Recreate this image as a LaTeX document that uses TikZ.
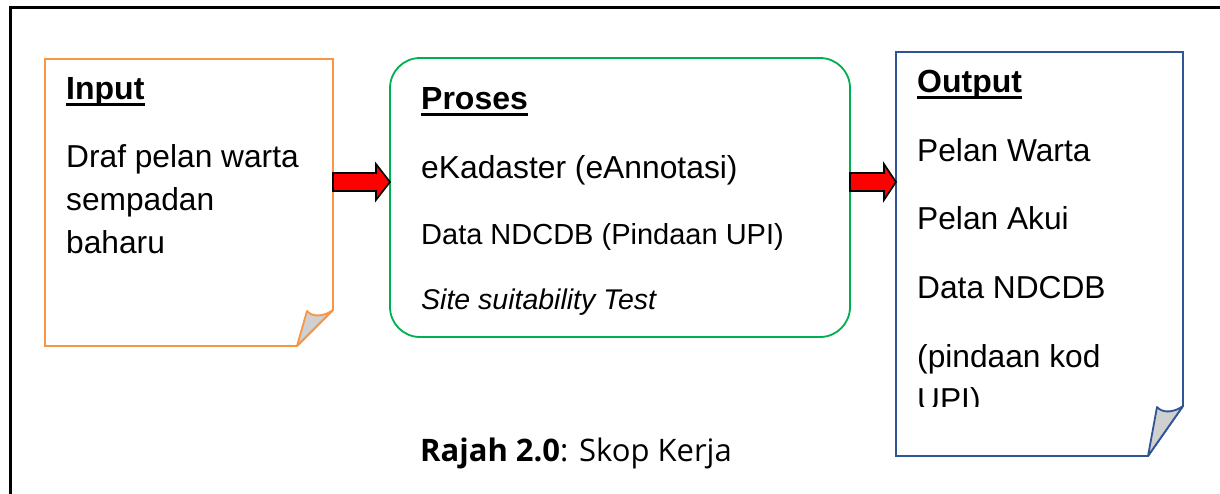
\documentclass[tikz,border=0pt]{standalone}
\usepackage{fontspec}
\setmainfont{Liberation Sans}
\newfontfamily\capfont{Open Sans}
\usetikzlibrary{calc}
\definecolor{inorange}{HTML}{F79646}
\definecolor{progreen}{HTML}{00B050}
\definecolor{outblue}{HTML}{2F5597}
\definecolor{curlgray}{HTML}{D0D0D0}
\definecolor{arrowred}{HTML}{FF0000}
\begin{document}
\begin{tikzpicture}[x=1pt,y=-1pt,
  boxanchor/.style={inner sep=0, outer sep=0, minimum width=#1, anchor=north west, draw=none},
  ttl/.style={font=\fontsize{32}{38}\selectfont\bfseries, anchor=base west, inner sep=0},
  bodytxt/.style={font=\fontsize{31.7}{38}\selectfont, anchor=base west, inner sep=0},
  uline/.style={line width=3pt},
  blockarrow/.style={draw=black, fill=arrowred, line width=1.6pt, line join=miter},
  curl/.style={fill=curlgray, line width=1.8pt, line join=round}
]
\useasboundingbox (0,0) rectangle (1220,493);
\fill[white] (0,0) rectangle (1220,493);
% outer frame
\draw[line width=3pt] (10,495) -- (10,7) -- (1222,7);

% ---------- Input box ----------
\node[boxanchor=288pt, minimum height=287pt] (inbox) at (45,59) {};
\draw[inorange, line width=1.8pt, line join=miter]
  (inbox.north west) -- (inbox.north east) -- ($(inbox.south east)+(0,-36)$)
  -- ($(inbox.south east)+(-36,0)$) -- (inbox.south west) -- cycle;
\draw[inorange, curl] ($(inbox.south east)+(-36,0)$) -- ($(inbox.south east)+(-26,-35)$)
  .. controls ($(inbox.south east)+(-20,-28)$) and ($(inbox.south east)+(-8,-30)$) .. ($(inbox.south east)+(0,-36)$) -- cycle;
\node[ttl] (tin) at (66,99) {Input};
\draw[uline] ($(tin.base west)+(0,5)$) -- ($(tin.base east)+(0,5)$);
\node[bodytxt] (in1) at (66,167) {Draf pelan warta};
\node[bodytxt] (in2) at (66,210) {sempadan};
\node[bodytxt] (in3) at (66,253) {baharu};

% ---------- Proses box ----------
\node[boxanchor=460pt, minimum height=279pt] (probox) at (390,58) {};
\draw[progreen, line width=1.8pt, rounded corners=30pt]
  (probox.north west) rectangle (probox.south east);
\node[ttl] (tpro) at (421,109) {Proses};
\draw[uline] ($(tpro.base west)+(0,5)$) -- ($(tpro.base east)+(0,5)$);
\node[bodytxt, font=\fontsize{31.8}{38}\selectfont] (p1) at (421,178) {eKadaster (eAnnotasi)};
\node[bodytxt, font=\fontsize{29}{36}\selectfont] (p2) at (421,244) {Data NDCDB (Pindaan UPI)};
\node[bodytxt, font=\fontsize{28.5}{36}\selectfont\itshape] (p3) at (421,309) {Site suitability Test};

% ---------- Output box ----------
\node[boxanchor=287pt, minimum height=404pt] (outbox) at (896,52) {};
\draw[outblue, line width=1.8pt, line join=miter]
  (outbox.north west) -- (outbox.north east) -- ($(outbox.south east)+(0,-50)$)
  -- ($(outbox.south east)+(-35,0)$) -- (outbox.south west) -- cycle;
\draw[outblue, curl] ($(outbox.south east)+(-35,0)$) -- ($(outbox.south east)+(-26,-49)$)
  .. controls ($(outbox.south east)+(-20,-42)$) and ($(outbox.south east)+(-8,-44)$) .. ($(outbox.south east)+(0,-50)$) -- cycle;
\node[ttl] (tout) at (917,92) {Output};
\draw[uline] ($(tout.base west)+(0,5)$) -- ($(tout.base east)+(0,5)$);
\begin{scope}
  \clip (896,52) rectangle (1183,406);
  \node[bodytxt] (o1) at (917,161) {Pelan Warta};
  \node[bodytxt] (o2) at (917,229) {Pelan Akui};
  \node[bodytxt] (o3) at (917,298) {Data NDCDB};
  \node[bodytxt] (o4) at (917,367) {(pindaan kod};
  \node[bodytxt] (o5) at (917,410) {UPI)};
\end{scope}

% ---------- block arrows ----------
\coordinate (a1s) at (inbox.east |- 0,182);
\coordinate (a1e) at (probox.west |- 0,182);
\draw[blockarrow] ($(a1s)+(0,-9)$) -- ($(a1e)+(-14,-9)$) -- ($(a1e)+(-14,-18)$) -- (a1e)
  -- ($(a1e)+(-14,18)$) -- ($(a1e)+(-14,9)$) -- ($(a1s)+(0,9)$) -- cycle;
\coordinate (a2s) at (probox.east |- 0,182);
\coordinate (a2e) at (outbox.west |- 0,182);
\draw[blockarrow] ($(a2s)+(0,-9)$) -- ($(a2e)+(-12,-9)$) -- ($(a2e)+(-12,-18)$) -- (a2e)
  -- ($(a2e)+(-12,18)$) -- ($(a2e)+(-12,9)$) -- ($(a2s)+(0,9)$) -- cycle;

% ---------- caption ----------
\node[anchor=base, inner sep=0, font=\capfont\fontsize{31}{36}\selectfont] (cap) at (576,461)
  {\textbf{Rajah 2.0}: Skop Kerja};
\end{tikzpicture}
\end{document}
